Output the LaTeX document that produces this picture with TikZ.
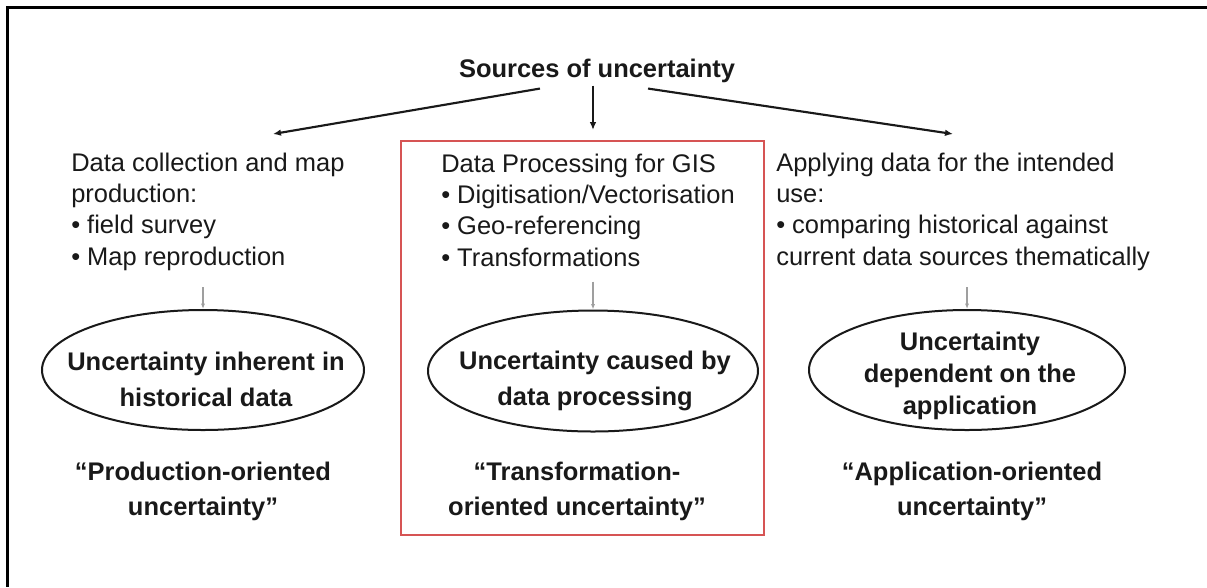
\documentclass[tikz,border=0pt]{standalone}
\usepackage{fontspec}
\setmainfont{Liberation Sans}
\usetikzlibrary{arrows.meta,shapes.geometric}
\definecolor{boxred}{RGB}{214,84,84}
\definecolor{ink}{RGB}{25,25,25}
\begin{document}
\begin{tikzpicture}[x=0.75pt,y=-0.75pt,
  txt/.style={inner sep=0, text=ink, font=\fontsize{19.1pt}{23.6pt}\selectfont, anchor=base west},
  btxt/.style={inner sep=0, text=ink, font=\fontsize{19.1pt}{26.25pt}\selectfont\bfseries, anchor=base},
  ell/.style={draw=ink, ellipse, line width=1.5pt, inner sep=0},
  arr/.style={draw=ink, line width=1.6pt, -{Latex[length=6pt,width=5pt]}},
  garr/.style={draw=gray!75, line width=1pt, -{Latex[length=4pt,width=3pt]}}]
\useasboundingbox (0,0) rectangle (1207,587);
\fill[white] (0,0) rectangle (1207,587);
\draw[line width=2.25pt] (1207,7.7) -- (7.7,7.7) -- (7.7,587);

% title and arrows
\node[btxt] (title) at (597,77) {Sources of uncertainty};
\coordinate (lt) at (273,134);
\coordinate (ct) at (593,130);
\coordinate (rt) at (953,134);
\draw[arr] ([shift={(-57,6)}]title.south) -- (lt);
\draw[arr] ([shift={(-4,3)}]title.south) -- (ct);
\draw[arr] ([shift={(51,6)}]title.south) -- (rt);

% red frame
\node[draw=boxred, line width=1.2pt, minimum width=272.5pt, minimum height=295.7pt, inner sep=0] (rbox) at (582.4,337.9) {};

% text blocks
\node[txt] (lb) at (71,171) {\parbox[t]{280pt}{Data collection and map\\production:\\• field survey\\• Map reproduction}};
\node[txt] (cb) at (441,172) {\parbox[t]{280pt}{Data Processing for GIS\\• Digitisation/Vectorisation\\• Geo-referencing\\• Transformations}};
\node[txt] (rb) at (776,171) {\parbox[t]{300pt}{Applying data for the intended\\use:\\• comparing historical against\\current data sources thematically}};

% ellipses
\node[ell, minimum width=241.5pt, minimum height=90pt] (e1) at (203,370) {};
\node[ell, minimum width=247.5pt, minimum height=90.75pt] (e2) at (593,371) {};
\node[ell, minimum width=237pt, minimum height=90pt] (e3) at (967,370) {};

\draw[garr] ([yshift=16.5pt]e1.north) -- (e1.north);
\draw[garr] ([yshift=21pt]e2.north) -- (e2.north);
\draw[garr] ([yshift=16.5pt]e3.north) -- (e3.north);

% ellipse texts
\node[btxt, font=\fontsize{19.1pt}{27pt}\selectfont\bfseries] (t1) at (206,370) {\parbox[t]{240pt}{\centering Uncertainty inherent in\\historical data}};
\node[btxt, font=\fontsize{19.1pt}{27pt}\selectfont\bfseries] (t2) at (595,369) {\parbox[t]{240pt}{\centering Uncertainty caused by\\data processing}};
\node[btxt, font=\fontsize{19.1pt}{24pt}\selectfont\bfseries] (t3) at (970,350) {\parbox[t]{240pt}{\centering Uncertainty\\dependent on the\\application}};

% bottom labels
\node[btxt] (l1) at (203,480) {\parbox[t]{240pt}{\centering “Production-oriented\\uncertainty”}};
\node[btxt] (l2) at (577,480) {\parbox[t]{240pt}{\centering “Transformation-\\oriented uncertainty”}};
\node[btxt] (l3) at (972,480) {\parbox[t]{240pt}{\centering “Application-oriented\\uncertainty”}};
\end{tikzpicture}
\end{document}
